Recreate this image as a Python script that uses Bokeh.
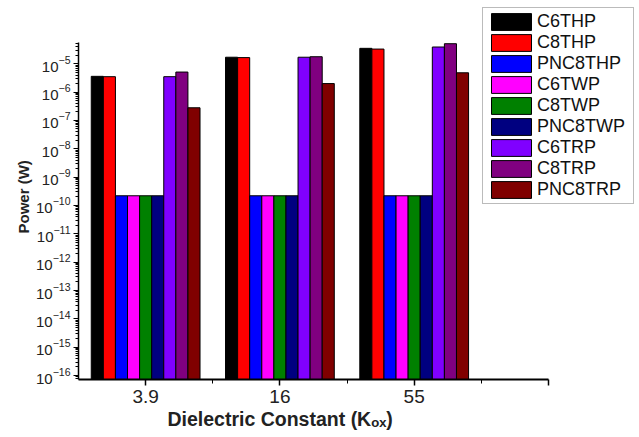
from bokeh.plotting import figure
from bokeh.models import FixedTicker, LogTickFormatter, Range1d, Title
from bokeh.embed import file_html
from bokeh.resources import INLINE

# Dielectric constants (x categories) and power per device type (W)
categories = ["3.9", "16", "55"]
series_names = ["C6THP", "C8THP", "PNC8THP", "C6TWP", "C8TWP",
                "PNC8TWP", "C6TRP", "C8TRP", "PNC8TRP"]
c6thp = [3.6e-6, 1.7e-5, 3.5e-5]
c8thp = [3.5e-6, 1.65e-5, 3.3e-5]
pnc8thp = [2.2e-10, 2.2e-10, 2.2e-10]
c6twp = [2.2e-10, 2.2e-10, 2.2e-10]
c8twp = [2.2e-10, 2.2e-10, 2.2e-10]
pnc8twp = [2.2e-10, 2.2e-10, 2.2e-10]
c6trp = [3.5e-6, 1.7e-5, 3.9e-5]
c8trp = [5.1e-6, 1.77e-5, 5.1e-5]
pnc8trp = [2.8e-7, 2.0e-6, 4.8e-6]
series_values = [c6thp, c8thp, pnc8thp, c6twp, c8twp, pnc8twp, c6trp, c8trp, pnc8trp]
colors = ["#000000", "#FF0000", "#0000FF", "#FF00FF", "#008000",
          "#000080", "#8000FF", "#800080", "#800000"]
y_exponents = list(range(-16, -4))

# axis extents; the plotting area reaches further so the legend fits inside it
Y_START = 10 ** -16.14
Y_TOP = 10 ** -4.25
X_START, X_END = 0.5, 4.0

p = figure(width=639, height=437, y_axis_type="log",
           x_range=Range1d(X_START, 4.678), y_range=Range1d(Y_START, 10 ** -2.768),
           output_backend="svg", toolbar_location=None,
           min_border_left=78, min_border_right=0,
           min_border_top=0, min_border_bottom=58)
p.title.visible = False
p.outline_line_color = None
p.grid.visible = False
p.background_fill_color = "white"
p.border_fill_color = "white"

bar_w = 0.09
xs = [i + 1 for i in range(len(categories))]
for k, (name, vals, col) in enumerate(zip(series_names, series_values, colors)):
    off = (k - 4) * bar_w
    p.vbar(x=[x + off for x in xs], top=vals, bottom=Y_START, width=bar_w,
           fill_color=col, line_color="black", line_width=1, legend_label=name)

# x axis: categories at 1..3, extra major tick at 4, minor ticks between
p.xaxis.bounds = (X_START, X_END)
p.xaxis.ticker = FixedTicker(ticks=[1, 2, 3, 4], minor_ticks=[1.5, 2.5, 3.5])
p.xaxis.major_label_overrides = {1: categories[0], 2: categories[1], 3: categories[2], 4: ""}
p.xaxis.axis_line_width = 2
p.xaxis.major_tick_in = 0
p.xaxis.major_tick_out = 6
p.xaxis.minor_tick_in = 0
p.xaxis.minor_tick_out = 4
p.xaxis.major_tick_line_width = 1.5
p.xaxis.major_label_text_font = "Liberation Sans"
p.xaxis.major_label_text_font_size = "19px"
p.xaxis.major_label_text_color = "#222222"
p.xaxis.major_label_standoff = 4

# y axis: one label per decade, eight minor ticks in between
p.yaxis.bounds = (Y_START, Y_TOP)
p.yaxis.ticker = FixedTicker(
    ticks=[10.0 ** e for e in y_exponents],
    minor_ticks=[m * 10.0 ** e for e in range(-17, -4) for m in range(2, 10)
                 if Y_START <= m * 10.0 ** e <= Y_TOP])
p.yaxis.formatter = LogTickFormatter()
p.yaxis.axis_line_width = 1.5
p.yaxis.major_tick_in = 0
p.yaxis.major_tick_out = 5
p.yaxis.minor_tick_in = 0
p.yaxis.minor_tick_out = 3
p.yaxis.major_label_text_font = "Liberation Sans"
p.yaxis.major_label_text_font_size = "15px"
p.yaxis.major_label_text_color = "#222222"
p.yaxis.major_label_standoff = 3

# axis titles
p.add_layout(Title(text="Power (W)", align="left", offset=146,
                   text_font="Liberation Sans", text_font_style="bold",
                   text_font_size="15px", text_color="#222222", standoff=4), "left")
p.add_layout(Title(text="Dielectric Constant (K\u2092\u2093)", align="left", offset=89,
                   text_font="Liberation Sans", text_font_style="bold",
                   text_font_size="19.5px", text_color="#222222", standoff=0), "below")

lg = p.legend[0]
lg.location = (404, 175)
lg.label_text_font = "Liberation Sans"
lg.label_text_font_size = "18px"
lg.label_text_color = "#111111"
lg.glyph_width = 50
lg.glyph_height = 21
lg.label_height = 21
lg.label_width = 93
lg.label_standoff = 1
lg.spacing = 0
lg.padding = 3
lg.margin = 0
lg.border_line_color = "#777777"
lg.border_line_width = 1
lg.background_fill_alpha = 1

open("out.html", "w").write(file_html(p, INLINE))
